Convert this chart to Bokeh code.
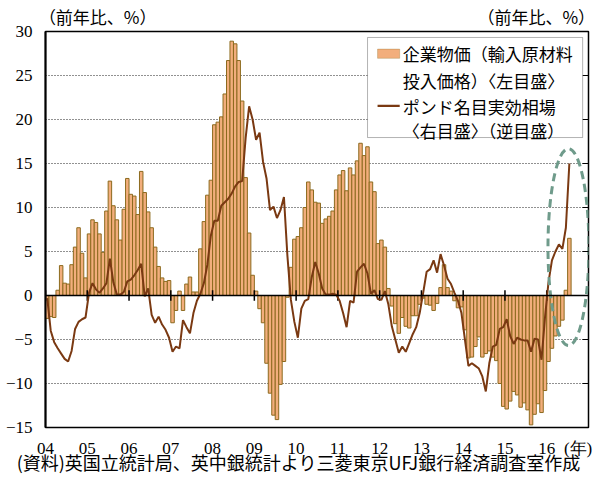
import numpy as np
from bokeh.plotting import figure
from bokeh.models import (Range1d, LinearAxis, FixedTicker, Span, BoxAnnotation,
                          Label, CustomJSTickFormatter)
from bokeh.embed import file_html
from bokeh.resources import INLINE

# ---------------- data ----------------
years = list(range(2004, 2017))
year_labels = ["04", "05", "06", "07", "08", "09", "10", "11", "12", "13", "14", "15", "16"]
year_unit = "(年)"
unit_label = "（前年比、%）"
source_note = "(資料)英国立統計局、英中銀統計より三菱東京UFJ銀行経済調査室作成"
legend_bar = ["企業物価（輸入原材料", "投入価格）〈左目盛〉"]
legend_line = ["ポンド名目実効相場", "〈右目盛〉（逆目盛）"]

# UK producer input prices (imported materials), % y/y, monthly from 2004-01
import_price = [
    -2.6, -2.4, -2.5, 0.6, 3.4, 1.4, 1.3, 3.5, 5.5, 7.7, 4.8, 2.0,            # 2004
    7.0, 8.6, 8.3, 7.0, 4.9, 9.6, 13.0, 10.2, 8.6, 6.3, 9.8, 13.3,            # 2005
    11.5, 11.3, 9.2, 14.1, 11.7, 9.5, 7.7, 5.5, 3.3, 2.0, 1.6, 1.7,           # 2006
    -3.1, -1.7, 0.5, -1.7, 1.3, 2.1, 0.4, 0.4, 5.3, 8.4, 11.4, 13.1,          # 2007
    19.4, 19.7, 20.3, 22.9, 26.7, 28.9, 28.6, 26.7, 22.1, 13.4, 7.1, 2.3,     # 2008
    0.5, -1.5, -3.1, -7.7, -11.1, -13.6, -14.1, -10.1, -7.5, -0.2, 3.2, 6.4,  # 2009
    6.7, 7.7, 10.0, 12.9, 12.0, 10.6, 10.5, 8.2, 8.7, 9.0, 9.6, 12.0,         # 2010
    13.7, 14.2, 11.9, 14.5, 13.7, 15.3, 17.3, 15.9, 16.9, 12.9, 11.8, 5.9,    # 2011
    6.3, 5.5, 0.8, -1.2, -3.2, -4.3, -2.5, -3.5, -3.7, -2.3, -2.3, -1.0,      # 2012
    -0.3, -1.0, -1.1, -1.7, -0.9, 0.9, 3.5, 0.9, 0.5, -0.6, -1.4, -1.3,       # 2013
    -3.9, -7.1, -7.0, -5.8, -4.7, -7.0, -6.6, -6.3, -7.0, -7.4, -10.0, -12.6, # 2014
    -12.9, -12.0, -10.9, -11.3, -12.7, -12.2, -13.0, -14.7, -13.5, -12.3, -13.3, -10.8,  # 2015
    -7.5, -6.0, -4.6, -3.5, -2.8, 0.6, 6.5,                                   # 2016
]

# Sterling nominal effective exchange rate, % y/y (plotted on an inverted right scale)
pound_neer = [
    0.3, 4.0, 5.3, 6.0, 6.6, 7.2, 7.5, 6.3, 3.8, 3.0, 2.7, 2.5,               # 2004
    -0.3, -1.4, -0.7, -0.3, -0.8, -1.4, -4.2, -1.5, -0.1, -0.1, -0.4, -1.6,   # 2005
    -1.8, -2.3, -2.9, -3.6, 0.1, -0.8, 2.2, 3.1, 2.4, 3.3, 3.9, 4.8,          # 2006
    6.4, 5.8, 6.0, 2.8, 3.6, 4.3, 2.0, 0.6, -0.2, -1.4, -3.5, -6.8,           # 2007
    -8.5, -8.5, -10.2, -10.6, -11.0, -11.6, -12.4, -12.9, -13.0, -17.9, -21.5, -20.0,  # 2008
    -17.7, -18.5, -15.2, -13.3, -9.7, -10.1, -8.8, -9.7, -11.2, -4.5, 0.5, 3.0,  # 2009
    4.8, 1.5, 0.6, 0.4, -2.1, -3.8, -2.5, -0.8, -0.1, -0.1, -0.2, -0.1,       # 2010
    0.6, 2.0, 3.6, 0.6, 0.8, -2.7, -3.2, -3.6, -2.5, -0.2, -0.6, 0.4,         # 2011
    0.5, -0.5, 1.0, 3.5, 5.0, 6.5, 5.8, 6.4, 5.4, 4.4, 3.6, 2.0,              # 2012
    -0.3, -2.7, -3.0, -4.0, -2.6, -4.7, -3.4, -1.9, -1.3, -0.3, 0.6, 2.0,     # 2013
    5.0, 8.0, 7.7, 8.0, 8.3, 9.2, 10.9, 7.7, 5.8, 5.6, 3.8, 3.6,              # 2014
    2.7, 4.6, 5.5, 4.8, 5.0, 5.1, 5.1, 6.4, 4.9, 5.0, 7.3, 2.5,               # 2015
    -1.5, -4.0, -5.0, -5.8, -5.3, -7.7, -15.0,                                # 2016
]

months = np.arange(len(import_price))
x = 2004 + (months + 0.5) / 12.0

# ---------------- styles ----------------
BAR_FILL = "#F2AE7C"
BAR_LINE = "#8C6A1E"
LINE_COL = "#7A3912"
SERIF = "Liberation Serif"
JP = "Noto Sans CJK JP"


def plain_axis(axis, font, size, standoff):
    axis.axis_line_color = None
    axis.major_tick_out = 0
    axis.major_tick_in = 0
    axis.minor_tick_line_color = None
    axis.major_label_standoff = standoff
    axis.major_label_text_font = font
    axis.major_label_text_font_size = size
    axis.major_label_text_color = "black"


p = figure(width=595, height=478,
           x_range=Range1d(2004, 2017), y_range=Range1d(-15, 30),
           output_backend="svg", toolbar_location=None,
           min_border_left=45, min_border_right=7, min_border_top=31, min_border_bottom=51)

p.outline_line_color = "black"
p.outline_line_width = 1.5
p.background_fill_color = "white"
p.border_fill_color = "white"

p.xgrid.visible = False
p.ygrid.ticker = FixedTicker(ticks=[-10, -5, 5, 10, 15, 20, 25])
p.ygrid.grid_line_color = "#222222"
p.ygrid.grid_line_dash = "1 2"
p.ygrid.grid_line_width = 1

# left axis
p.yaxis.ticker = FixedTicker(ticks=[-15, -10, -5, 0, 5, 10, 15, 20, 25, 30])
p.yaxis.axis_line_width = 2
p.yaxis.axis_line_color = "black"
p.yaxis.major_tick_out = 0
p.yaxis.major_tick_in = 0
p.yaxis.minor_tick_line_color = None
p.yaxis.major_label_standoff = 13
p.yaxis.major_label_text_font = SERIF
p.yaxis.major_label_text_font_size = "17px"
p.yaxis.major_label_text_color = "black"

# bottom axis: year labels plus the unit "(年)"
unit_x = years[-1] + 0.75
p.xaxis.ticker = FixedTicker(ticks=years + [unit_x])
overrides = {y: l for y, l in zip(years, year_labels)}
overrides[unit_x] = year_unit
p.xaxis.major_label_overrides = overrides
plain_axis(p.xaxis[0], SERIF, "17px", 11)

# second bottom axis carrying the source note
src_x = 2010.06
saxis = LinearAxis(ticker=FixedTicker(ticks=[src_x]),
                   major_label_overrides={src_x: source_note})
plain_axis(saxis, JP, "18px", -12)
p.add_layout(saxis, "below")

# top axis used only for the two unit labels
top_ticks = [years[1] + 0.25, years[-1] - 0.25]
taxis = LinearAxis(ticker=FixedTicker(ticks=top_ticks),
                   major_label_overrides={t: unit_label for t in top_ticks})
plain_axis(taxis, JP, "17px", 3)
p.add_layout(taxis, "above")

# right (inverted) axis for the pound
p.extra_y_ranges = {"pound": Range1d(start=15, end=-30)}
raxis = LinearAxis(y_range_name="pound", ticker=FixedTicker(ticks=[-25, -20, -15, -10, -5, 0, 5, 10]),
                   formatter=CustomJSTickFormatter(code="return ''"))
raxis.axis_line_color = None
raxis.major_tick_out = 0
raxis.major_tick_in = 6
raxis.major_tick_line_color = "black"
raxis.minor_tick_line_color = None
raxis.major_label_standoff = 0
p.add_layout(raxis, "right")

# bars
p.vbar(x=x, top=import_price, bottom=0, width=1 / 12.0,
       fill_color=BAR_FILL, line_color=BAR_LINE, line_width=1)

# zero line and year ticks on it
p.add_layout(Span(location=0, dimension="width", line_color="black", line_width=1.5))
p.segment(x0=years, x1=years, y0=-0.6, y1=0.6, line_color="black", line_width=1.5)

# pound line
p.line(x, pound_neer, y_range_name="pound", line_color=LINE_COL, line_width=2)

# highlight ellipse
p.ellipse(x=2016.52, y=5.5, width=0.98, height=22.4, fill_color=None,
          line_color="#6F9B8B", line_width=3, line_dash="8 5")

# legend (drawn manually)
p.add_layout(BoxAnnotation(left=2011.71, right=2016.86, bottom=17.95, top=29.32,
                           fill_color="white", fill_alpha=1, line_color="black", line_width=1))
p.add_layout(BoxAnnotation(left=2011.95, right=2012.48, bottom=26.95, top=28.0,
                           fill_color=BAR_FILL, fill_alpha=1, line_color=BAR_LINE, line_width=1))
p.add_layout(BoxAnnotation(left=2011.95, right=2012.48, bottom=21.42, top=21.68,
                           fill_color=LINE_COL, fill_alpha=1, line_color=None))
for ty, txt in [(27.5, legend_bar[0]), (24.45, legend_bar[1]),
                (21.5, legend_line[0]), (18.75, legend_line[1])]:
    p.add_layout(Label(x=2012.55, y=ty, text=txt, text_baseline="middle",
                       text_font=JP, text_font_size="17px", text_color="black"))

open("out.html", "w").write(file_html(p, INLINE))
